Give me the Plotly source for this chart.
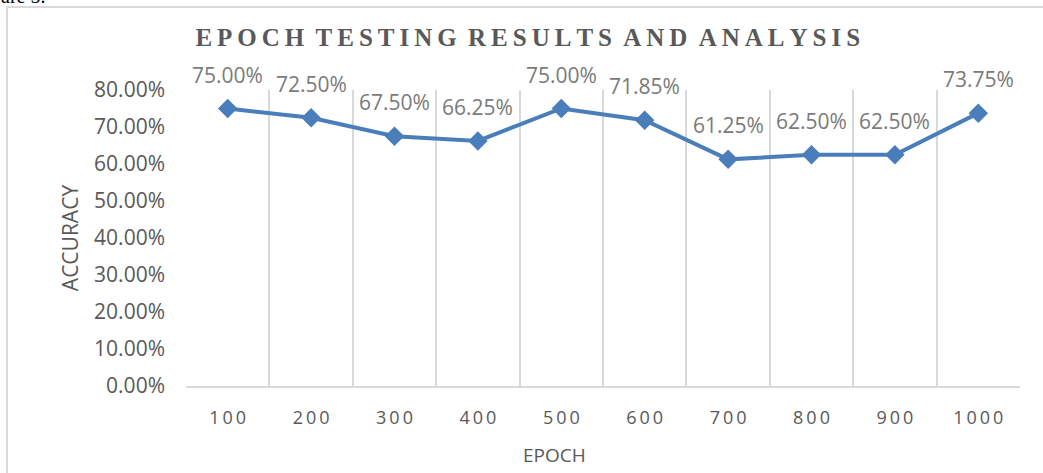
import plotly.graph_objects as go

# epoch test results
epochs = ['100', '200', '300', '400', '500', '600', '700', '800', '900', '1000']
accuracy = [0.75, 0.725, 0.675, 0.6625, 0.75, 0.7185, 0.6125, 0.625, 0.625, 0.7375]
y_ticks = [0, 0.1, 0.2, 0.3, 0.4, 0.5, 0.6, 0.7, 0.8]

title_words = ['EPOCH', 'TESTING', 'RESULTS', 'AND', 'ANALYSIS']
# excel style letter spacing
title_txt = ' \u2009'.join('\u2009'.join(w) for w in title_words)
tick_txt = ['\u2009'.join(e) for e in epochs]

grey = '#595959'
blue = '#4A7EBB'

fig = go.Figure()

fig.add_trace(go.Scatter(
    x=epochs, y=accuracy, mode='lines+markers',
    line=dict(color=blue, width=4),
    marker=dict(symbol='diamond', size=15, color=blue),
    showlegend=False, hoverinfo='x+y'))

# data labels (x given as category index)
for i, a in enumerate(accuracy):
    fig.add_annotation(x=i, y=a, text=f'{a:.2%}', showarrow=False,
                       yshift=34, font=dict(family='Open Sans', size=21, color='#7a7a7a'))

# outer chart border + clipped text from the page above
fig.add_shape(type='rect', xref='paper', yref='paper',
              x0=-0.2146, x1=1.2, y0=-0.6, y1=1.2804,
              line=dict(color='#d9d9d9', width=2), fillcolor='rgba(0,0,0,0)')
fig.add_annotation(xref='paper', yref='paper', x=-0.224, y=1.2736,
                   xanchor='left', yanchor='bottom', text='are 5.', showarrow=False,
                   font=dict(family='Liberation Serif', size=20, color='black'))

# x axis title sits left of centre in the original
fig.add_annotation(xref='paper', yref='paper', x=0.4424, y=-0.233,
                   xanchor='center', yanchor='middle', text='EPOCH', showarrow=False,
                   font=dict(family='Open Sans', size=19, color=grey))

fig.update_layout(
    width=1043, height=473,
    margin=dict(l=186, r=23, t=90, b=87),
    paper_bgcolor='white', plot_bgcolor='white',
    title=dict(text=title_txt, x=0.506, xanchor='center', y=0.922, yanchor='middle',
               font=dict(family='Liberation Serif', size=25, color=grey, weight='bold')),
    font=dict(family='Open Sans', color=grey),
)

fig.update_xaxes(
    type='category', categoryorder='array', categoryarray=epochs,
    tickvals=epochs, ticktext=tick_txt, range=[-0.5, 9.5],
    tickson='boundaries', ticks='',
    showgrid=True, gridcolor='#d9d9d9', gridwidth=1.5,
    showline=True, linecolor='#d9d9d9', linewidth=1.5,
    tickfont=dict(family='Open Sans', size=18, color=grey), ticklabelstandoff=15)

fig.update_yaxes(
    range=[0, 0.8], tickvals=y_ticks, tickformat='.2%',
    showgrid=False, zeroline=False, showline=False, ticks='',
    tickfont=dict(family='Open Sans', size=21, color=grey), ticklabelstandoff=20,
    title=dict(text='ACCURACY', font=dict(family='Open Sans', size=21, color=grey), standoff=9))

# page body has a default 8px margin; drop it so the chart sits at the corner
fig.write_html('out.html', config={'displayModeBar': False},
               post_script="document.body.style.margin='0';")
